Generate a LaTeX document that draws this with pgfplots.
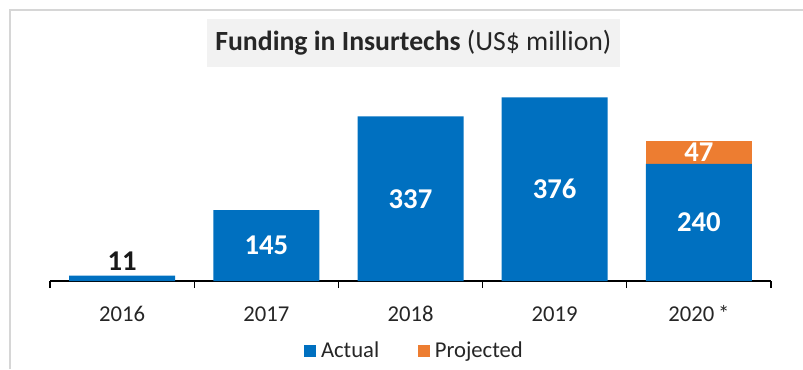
\documentclass[border=0pt]{standalone}
\usepackage{pgfplots}
\pgfplotsset{compat=1.18}
\usepackage{fontspec}
\setmainfont{Carlito}
\definecolor{cblue}{HTML}{0070C0}
\definecolor{corange}{HTML}{ED7D31}
\definecolor{tgray}{HTML}{F2F2F2}
\definecolor{fgray}{HTML}{D6D6D6}
\begin{document}
\begin{tikzpicture}
\useasboundingbox (0,0) rectangle (602.25pt,276.75pt);
\draw[fgray, line width=1.2pt] (7.5pt,0) -- (7.5pt,269.25pt) -- (602.25pt,269.25pt);
\begin{axis}[
  at={(37.5pt,66pt)}, anchor=south west,
  scale only axis, width=540.75pt, height=146.5pt,
  xmin=-0.5, xmax=4.5, ymin=0, ymax=400,
  axis x line*=bottom, axis y line=none,
  x axis line style={black, line width=0.9pt},
  xtick={0,1,2,3,4},
  xticklabels={2016,2017,2018,2019,{2020\,*}},
  major tick length=0pt,
  minor xtick={-0.5,0.5,1.5,2.5,3.5,4.5},
  minor tick length=5.25pt, tick align=outside,
  minor tick style={black, line width=0.9pt},
  xticklabel style={font=\fontsize{17}{20}\selectfont, text=black!85, anchor=base, yshift=-30pt},
  title={\textbf{Funding in Insurtechs} (US\$ million)},
  title style={at={(0.504,1.177)}, anchor=center, fill=tgray, minimum width=309.75pt, minimum height=36pt, font=\fontsize{20.8}{24}\selectfont, text=black!85},
  legend columns=2,
  legend style={at={(0.506,-0.355)}, anchor=center, draw=none, fill=none,
    font=\fontsize{17}{20}\selectfont, text=black!85,
    /tikz/every odd column/.append style={column sep=2pt},
    /tikz/every even column/.append style={column sep=27pt}},
  legend image code/.code={\fill[#1] (0pt,-4.1pt) rectangle (8.25pt,4.1pt);},
]
\addlegendimage{cblue}\addlegendentry{Actual}
\addlegendimage{corange}\addlegendentry{Projected}
% projected total (actual + projected) drawn first, actual on top
\addplot[ybar, bar width=79.5pt, bar shift=0pt, fill=corange, draw=none, forget plot]
  coordinates {(4,287)};
\addplot[ybar, bar width=79.5pt, bar shift=0pt, fill=cblue, draw=none, forget plot]
  coordinates {(0,11) (1,145) (2,337) (3,376) (4,240)};
% labels inside bars
\addplot[draw=none, mark=none, forget plot, point meta=explicit symbolic,
  nodes near coords, nodes near coords style={anchor=center, text=white, font=\fontsize{21.5}{24}\selectfont\bfseries}]
  coordinates {(1,72.5)[145] (2,168.5)[337] (3,188)[376] (4,120)[240] (4,263.5)[47]};
\addplot[draw=none, mark=none, forget plot, point meta=explicit symbolic,
  nodes near coords, nodes near coords style={anchor=south, inner sep=3.5pt, text=black!90, font=\fontsize{21.5}{24}\selectfont\bfseries}]
  coordinates {(0,11)[11]};
\end{axis}
\end{tikzpicture}
\end{document}
